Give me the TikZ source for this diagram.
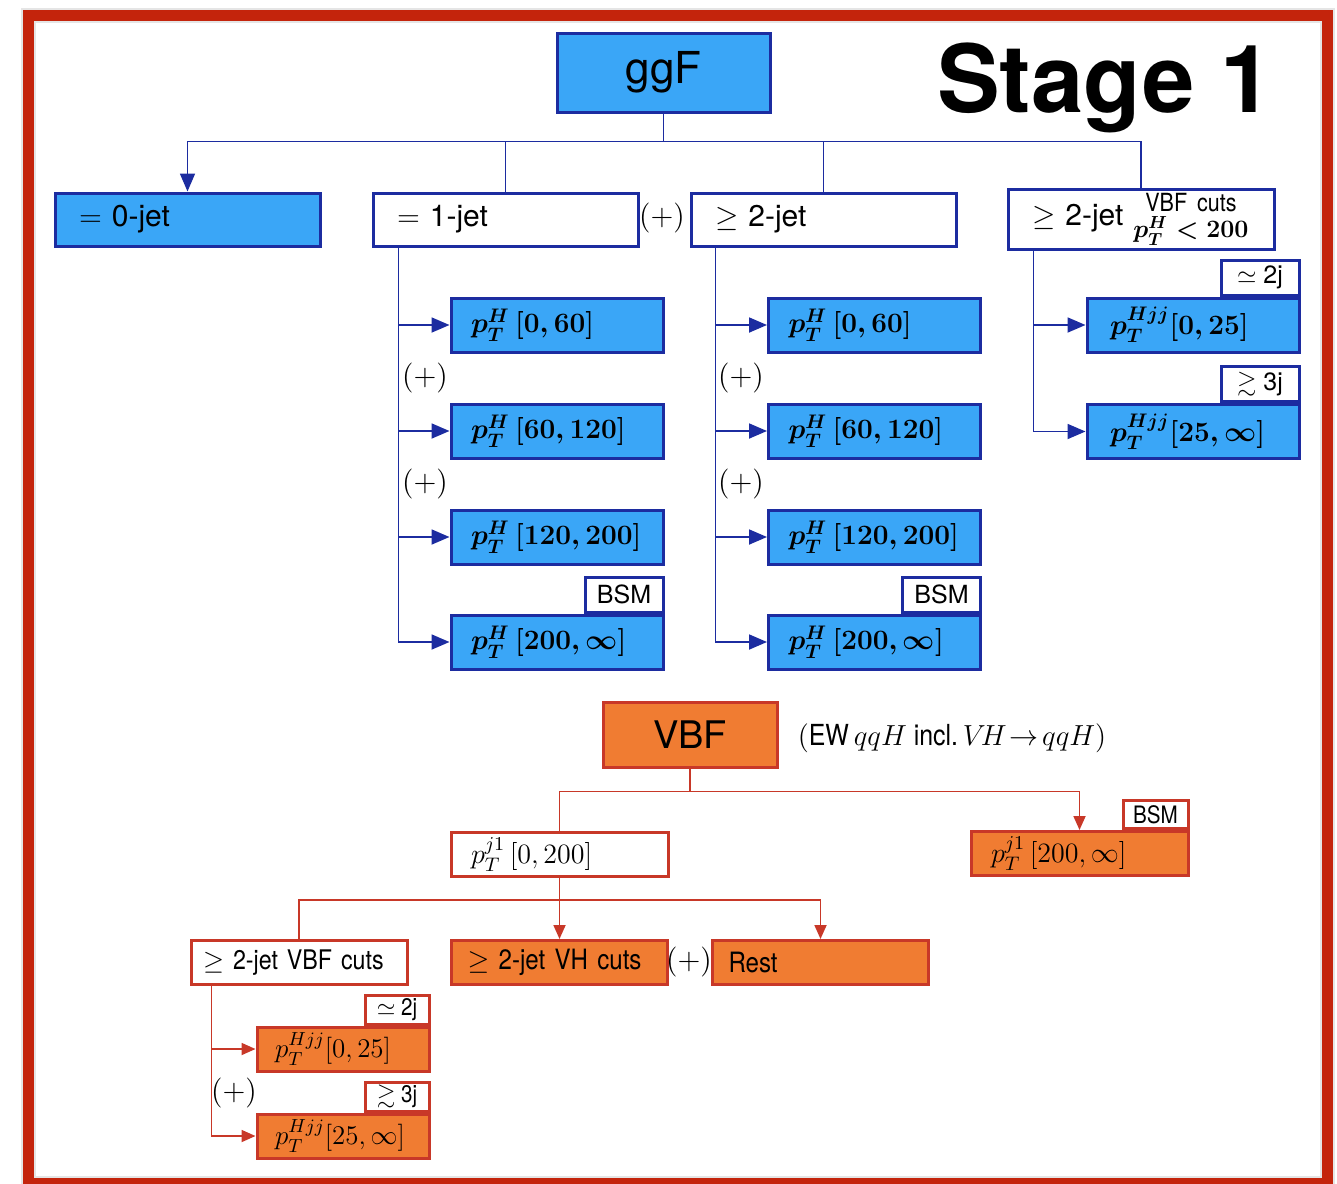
\RequirePackage{fix-cm}
\documentclass[tikz,border=0pt]{standalone}
\usepackage{amssymb}
\usepackage{fontspec}
\usetikzlibrary{arrows.meta}
\newfontfamily\helv{TeX Gyre Heros}
\newfontfamily\helvn[FakeStretch=0.86]{TeX Gyre Heros}
\definecolor{ggffill}{RGB}{58,166,247}
\definecolor{ggfline}{RGB}{28,44,160}
\definecolor{vbffill}{RGB}{240,124,50}
\definecolor{vbfline}{RGB}{200,56,40}
\definecolor{framered}{RGB}{196,36,12}
\begin{document}
\begin{tikzpicture}[x=0.5pt, y=-0.5pt,
    ggfbox/.style={draw=ggfline, fill=ggffill, line width=1.5pt},
    ggfwhite/.style={draw=ggfline, fill=white, line width=1.5pt},
    vbfbox/.style={draw=vbfline, fill=vbffill, line width=1.5pt},
    vbfwhite/.style={draw=vbfline, fill=white, line width=1.5pt},
    jetcat/.style={minimum height=26.5pt, text width=108.5pt, inner xsep=12pt, inner ysep=0pt, align=left, font=\helv\fontsize{15}{18}\selectfont},
    ptbin/.style={minimum height=27pt, text width=86pt, inner xsep=10pt, inner ysep=0pt, align=left, font=\boldmath\fontsize{14}{17}\selectfont},
    tagbox/.style={ggfwhite, minimum width=39pt, minimum height=17.5pt, inner sep=0pt, font=\helv\fontsize{12.5}{14}\selectfont},
    vtagbox/.style={vbfwhite, minimum width=32.5pt, minimum height=14pt, inner sep=0pt, font=\helvn\fontsize{12}{13}\selectfont},
    vbin/.style={minimum height=22pt, inner ysep=0pt, align=left, font=\helvn\fontsize{14}{16}\selectfont},
    plus/.style={inner sep=0pt, font=\fontsize{15}{18}\selectfont},
    conn/.style={draw=ggfline, line width=0.9pt},
    arr/.style={conn, -{Triangle[length=9pt, width=7.5pt]}},
    vconn/.style={draw=vbfline, line width=0.9pt},
    varr/.style={vconn, -{Triangle[length=7pt, width=6pt]}} ]
    \useasboundingbox (0,0) rectangle (1337,1183);

    % --- Frame ---
    \draw[gray!20, line width=7.5pt] (28,15) rectangle (1327,1183);
    \draw[framered, line width=5.5pt] (28,15) rectangle (1327,1183);
    \node[anchor=base, font=\helv\bfseries\fontsize{47}{50}\selectfont] (stage) at (1105,112) {Stage 1};

    % --- ggF ---
    \node[ggfbox, minimum width=106.5pt, minimum height=39.5pt, font=\helv\fontsize{22}{26}\selectfont] (ggf) at (663.5,72.5) {ggF};

    \node[ggfbox, jetcat] (jet0) at (187.5,219.5) {$=$ 0-jet};
    \node[ggfwhite, jetcat] (jet1) at (505.5,219.5) {$=$ 1-jet};
    \node[ggfwhite, jetcat] (jet2) at (823.5,219.5) {$\geq$ 2-jet};
    \node[ggfwhite, jetcat, minimum height=30pt, text width=109pt] (jetv) at (1141,219)
        {\mbox{$\geq$ 2-jet\hspace{5pt}{\helvn\boldmath\fontsize{12.5}{12}\selectfont\begin{tabular}{@{}c@{}}VBF cuts\\[-1pt]$p_T^H<200$\end{tabular}}}};
    \node[plus] (plus0) at (662,218) {$(+)$};

    \draw[arr] (ggf.south) -- ++(0,28) -| (jet0.north);
    \draw[conn] (ggf.south) -- ++(0,28) -| (jet1.north);
    \draw[conn] (ggf.south) -- ++(0,28) -| (jet2.north);
    \draw[conn] (ggf.south) -- ++(0,28) -| (jetv.north);

    % = 1-jet
    \node[ggfbox, ptbin] (a1) at (557,325) {$p_T^H\,[0,60]$};
    \node[ggfbox, ptbin] (a2) at (557,431) {$p_T^H\,[60,120]$};
    \node[ggfbox, ptbin] (a3) at (557,537) {$p_T^H\,[120,200]$};
    \node[ggfbox, ptbin] (a4) at (557,642) {$p_T^H\,[200,\infty]$};
    \node[tagbox, anchor=south east] (bsma) at (a4.north east) {BSM};
    \node[plus] (pa1) at (425,378) {$(+)$};
    \node[plus] (pa2) at (425,484) {$(+)$};
    \foreach \n in {a1,a2,a3,a4}
        \draw[arr] ([xshift=13.5pt]jet1.south west) |- (\n.west);

    % >= 2-jet
    \node[ggfbox, ptbin] (b1) at (874.5,325) {$p_T^H\,[0,60]$};
    \node[ggfbox, ptbin] (b2) at (874.5,431) {$p_T^H\,[60,120]$};
    \node[ggfbox, ptbin] (b3) at (874.5,537) {$p_T^H\,[120,200]$};
    \node[ggfbox, ptbin] (b4) at (874.5,642) {$p_T^H\,[200,\infty]$};
    \node[tagbox, anchor=south east] (bsmb) at (b4.north east) {BSM};
    \node[plus] (pb1) at (741,378) {$(+)$};
    \node[plus] (pb2) at (741,484) {$(+)$};
    \foreach \n in {b1,b2,b3,b4}
        \draw[arr] ([xshift=13pt]jet2.south west) |- (\n.west);

    % VBF cuts
    \node[ggfbox, ptbin, text width=83pt, inner xsep=11.5pt] (c1) at (1193,325) {$p_T^{Hjj}[0,25]$};
    \node[ggfbox, ptbin, text width=83pt, inner xsep=11.5pt] (c2) at (1193,431.5) {$p_T^{Hjj}[25,\infty]$};
    \node[tagbox, anchor=south east] (tagc1) at (c1.north east) {$\simeq$ 2j};
    \node[tagbox, anchor=south east] (tagc2) at (c2.north east) {$\gtrsim$ 3j};
    \foreach \n in {c1,c2}
        \draw[arr] ([xshift=13.5pt]jetv.south west) |- (\n.west);

    % --- VBF ---
    \node[vbfbox, minimum width=87pt, minimum height=32.5pt, font=\helv\fontsize{19}{22}\selectfont] (vbf) at (690,734.5) {VBF};
    \node[font=\helvn\fontsize{14.5}{17}\selectfont] (ewnote) at (952,738) {$($EW\,$qqH$ incl.\,$V\!H\!\rightarrow\!qqH)$};

    \node[vbfwhite, vbin, text width=88.5pt, inner xsep=10pt] (j1low) at (559.5,854.5) {$p_T^{j1}\,[0,200]$};
    \node[vbfbox, vbin, text width=88.5pt, inner xsep=10pt] (j1high) at (1079.5,853.5) {$p_T^{j1}\,[200,\infty]$};
    \node[vtagbox, anchor=south east] (bsmv) at (j1high.north east) {BSM};

    \draw[vconn] (vbf.south) -- ++(0,23) -| (j1low.north);
    \draw[varr] (vbf.south) -- ++(0,23) -| (j1high.north);

    \node[vbfwhite, vbin, text width=96pt, inner xsep=6pt, font=\helvn\fontsize{13.5}{16}\selectfont] (vbfcut) at (299,962.5) {$\geq$ 2-jet VBF cuts};
    \node[vbfbox, vbin, text width=92pt, inner xsep=8pt] (vhcut) at (559.5,962.5) {$\geq$ 2-jet VH cuts};
    \node[vbfbox, vbin, text width=92pt, inner xsep=8pt] (rest) at (820.5,962.5) {Rest};
    \node[plus] (pv0) at (689,962) {$(+)$};

    \draw[vconn] (j1low.south) -- ++(0,22) -| (vbfcut.north);
    \draw[varr] (j1low.south) -- ++(0,22) -| (vhcut.north);
    \draw[varr] (j1low.south) -- ++(0,22) -| (rest.north);

    \node[vbfbox, vbin, text width=68pt, inner xsep=9pt, font=\fontsize{13.5}{16}\selectfont] (v1) at (343,1049) {$p_T^{Hjj}[0,25]$};
    \node[vbfbox, vbin, text width=68pt, inner xsep=9pt, font=\fontsize{13.5}{16}\selectfont] (v2) at (343,1136) {$p_T^{Hjj}[25,\infty]$};
    \node[vtagbox, minimum width=32pt, minimum height=14.5pt, anchor=south east] (tagv1) at (v1.north east) {$\simeq$ 2j};
    \node[vtagbox, minimum width=32pt, minimum height=14.5pt, anchor=south east] (tagv2) at (v2.north east) {$\gtrsim$ 3j};
    \node[plus] (pv1) at (234,1093) {$(+)$};
    \foreach \n in {v1,v2}
        \draw[varr] ([xshift=11pt]vbfcut.south west) |- (\n.west);
\end{tikzpicture}
\end{document}
